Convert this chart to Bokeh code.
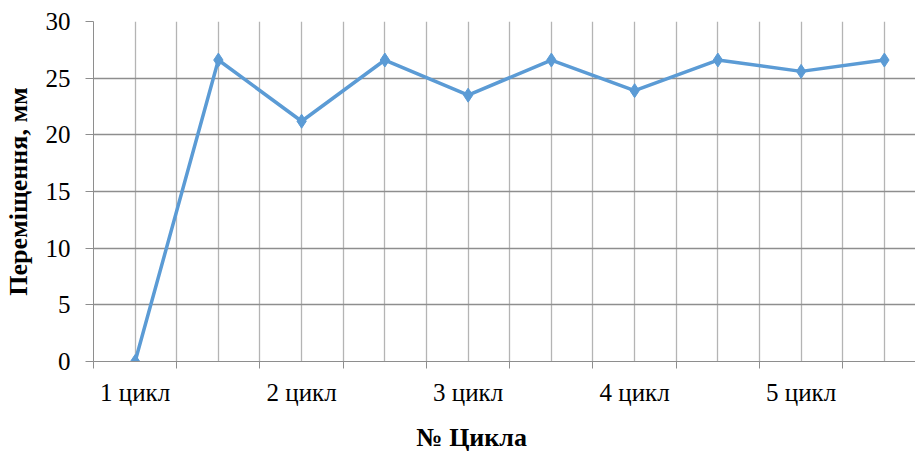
import numpy as np
from bokeh.plotting import figure
from bokeh.models import FixedTicker, Range1d, ColumnDataSource, Title
from bokeh.embed import file_html
from bokeh.resources import INLINE

# ---- data ----
cycle_labels = ["1 цикл", "2 цикл", "3 цикл", "4 цикл", "5 цикл"]
values = [0.0, 26.6, 21.2, 26.6, 23.5, 26.6, 23.9, 26.6, 25.6, 26.6]
y_ticks = [0, 5, 10, 15, 20, 25, 30]
x_title = "№ Цикла"
y_title = "Переміщення, мм"

n = len(values)
xs = np.arange(n) + 0.5  # category centres
src = ColumnDataSource(dict(x=xs, y=values))

p = figure(width=915, height=464, output_backend="svg", toolbar_location=None,
           x_range=Range1d(0, 9.874), y_range=Range1d(0, 30),
           min_border_left=92, min_border_right=0, min_border_top=21,
           min_border_bottom=103)
p.outline_line_color = None
p.background_fill_color = "white"

FONT = "Liberation Serif"
grid_h = "#8e8e8e"
grid_v = "#b4b4b4"

# x axis: labels on every second category centre, tick marks at category boundaries
label_pos = [float(xs[i]) for i in range(0, n, 2)]
p.xaxis.ticker = FixedTicker(ticks=label_pos, minor_ticks=list(range(0, n + 1)))
p.xaxis.major_label_overrides = {pos: lab for pos, lab in zip(label_pos, cycle_labels)}
p.xaxis.major_tick_out = 0
p.xaxis.major_tick_in = 0
p.xaxis.minor_tick_out = 7
p.xaxis.minor_tick_in = 0
p.xaxis.minor_tick_line_color = grid_h
p.xaxis.axis_line_color = grid_h
p.xaxis.major_label_text_font = FONT
p.xaxis.major_label_text_font_size = "25px"
p.xaxis.major_label_text_color = "black"
p.xaxis.major_label_standoff = 10

# x-axis title, placed left of the frame centre as in the original
p.add_layout(Title(text=x_title, align="left", offset=323, standoff=24,
                   text_font=FONT, text_font_style="bold",
                   text_font_size="26px", text_color="black"), "below")

# y axis
p.yaxis.ticker = FixedTicker(ticks=y_ticks)
p.yaxis.major_tick_out = 8
p.yaxis.major_tick_in = 0
p.yaxis.minor_tick_out = 0
p.yaxis.minor_tick_in = 0
p.yaxis.major_tick_line_color = grid_h
p.yaxis.axis_line_color = grid_h
p.yaxis.major_label_text_font = FONT
p.yaxis.major_label_text_font_size = "25px"
p.yaxis.major_label_text_color = "black"
p.yaxis.major_label_standoff = 15
p.yaxis.axis_label = y_title
p.yaxis.axis_label_text_font = FONT
p.yaxis.axis_label_text_font_style = "bold"
p.yaxis.axis_label_text_font_size = "26px"
p.yaxis.axis_label_text_color = "black"
p.yaxis.axis_label_standoff = 10

# grids
p.xgrid.ticker = FixedTicker(ticks=list(np.arange(0, n + 0.5, 0.5)))
p.xgrid.grid_line_color = grid_v
p.xgrid.grid_line_width = 1.3
p.ygrid.ticker = FixedTicker(ticks=y_ticks)
p.ygrid.grid_line_color = grid_h
p.ygrid.grid_line_width = 1.3

# series
color = "#5B9BD5"
p.line("x", "y", source=src, line_color=color, line_width=3.5)
p.scatter("x", "y", source=src, marker="diamond", size=14,
          fill_color=color, line_color=color)

open("out.html", "w").write(file_html(p, INLINE))
